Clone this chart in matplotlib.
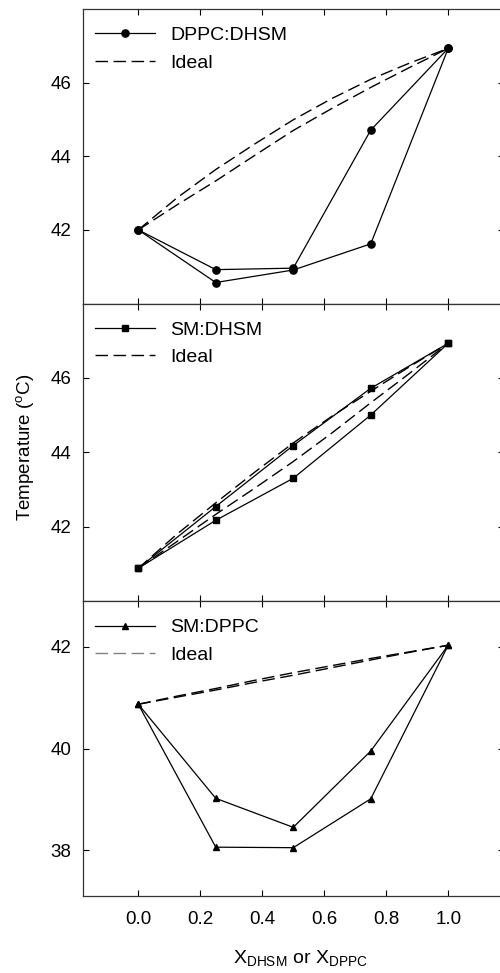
import matplotlib
matplotlib.use("Agg")
import matplotlib.pyplot as plt
from matplotlib.lines import Line2D

plt.rcParams['font.family'] = ['Liberation Sans', 'DejaVu Sans']
plt.rcParams['mathtext.fontset'] = 'custom'
plt.rcParams['mathtext.rm'] = 'Liberation Sans'
plt.rcParams['mathtext.it'] = 'Liberation Sans'

x = [0.0, 0.25, 0.5, 0.75, 1.0]
x_ideal = [0.0, 0.125, 0.25, 0.375, 0.5, 0.625, 0.75, 0.875, 1.0]

# DPPC:DHSM
dppc_dhsm_a = [42.0, 40.92, 40.96, 44.71, 46.93]
dppc_dhsm_b = [42.0, 40.57, 40.91, 41.62, 46.93]
ideal1_a = [42.0, 42.87, 43.64, 44.33, 44.99, 45.57, 46.09, 46.53, 46.93]
ideal1_b = [42.0, 42.68, 43.33, 44.02, 44.70, 45.30, 45.87, 46.41, 46.93]

# SM:DHSM
sm_dhsm_a = [40.88, 42.54, 44.18, 45.72, 46.93]
sm_dhsm_b = [40.88, 42.17, 43.30, 45.00, 46.93]
ideal2_a = [40.88, 41.80, 42.64, 43.46, 44.25, 44.97, 45.64, 46.30, 46.93]
ideal2_b = [40.88, 41.60, 42.33, 43.03, 43.75, 44.52, 45.33, 46.12, 46.93]

# SM:DPPC
sm_dppc_a = [40.87, 39.02, 38.45, 39.95, 42.03]
sm_dppc_b = [40.87, 38.06, 38.05, 39.01, 42.03]
ideal3_a = [40.87, 41.03, 41.18, 41.34, 41.49, 41.63, 41.77, 41.90, 42.03]
ideal3_b = [40.87, 41.01, 41.15, 41.30, 41.44, 41.59, 41.74, 41.89, 42.03]

panels = [
    ('DPPC:DHSM', 'o', 5.2, dppc_dhsm_a, dppc_dhsm_b, ideal1_a, ideal1_b, (40, 48), [42, 44, 46], 'black'),
    ('SM:DHSM', 's', 4.3, sm_dhsm_a, sm_dhsm_b, ideal2_a, ideal2_b, (40, 48), [42, 44, 46], 'black'),
    ('SM:DPPC', '^', 5.0, sm_dppc_a, sm_dppc_b, ideal3_a, ideal3_b, (37.1, 42.9), [38, 40, 42], '0.5'),
]

fig = plt.figure(figsize=(5, 9.73), dpi=100)
W, H = 500.0, 973.0
left, right = 82.5, 504.0
tops = [(9, 303.5), (303.5, 601), (601, 896)]

for i, (name, mk, ms, ya, yb, ia, ib, ylim, yticks, lc) in enumerate(panels):
    t, b = tops[i]
    ax = fig.add_axes([left / W, 1 - b / H, (right - left) / W, (b - t) / H])
    l1, = ax.plot(x, ya, color='black', lw=0.9, marker=mk, ms=ms, label=name)
    ax.plot(x, yb, color='black', lw=0.9, marker=mk, ms=ms)
    ax.plot(x_ideal, ia, color='black', lw=1.0, dashes=(9, 4))
    ax.plot(x_ideal, ib, color='black', lw=1.0, dashes=(9, 4))
    l2 = Line2D([], [], color=lc, lw=1.0, dashes=(9, 4), label='Ideal')
    ax.set_xlim(-0.18, 1.18)
    ax.set_ylim(*ylim)
    ax.set_xticks([0.0, 0.2, 0.4, 0.6, 0.8, 1.0])
    ax.set_yticks(yticks)
    ax.tick_params(direction='in', length=4.5, width=0.8, top=True, right=True,
                   labelsize=13.5, colors='black')
    ax.tick_params(axis='y', pad=8)
    ax.tick_params(axis='x', pad=11)
    if i < 2:
        ax.tick_params(labelbottom=False)
    else:
        ax.set_xticklabels(['0.0', '0.2', '0.4', '0.6', '0.8', '1.0'])
    for s in ax.spines.values():
        s.set_linewidth(0.9)
        s.set_color('#333333')
    ax.legend(handles=[l1, l2], loc='upper left', bbox_to_anchor=(0.03, 0.94),
              frameon=False, fontsize=14, handlelength=3.1, handletextpad=0.75,
              labelspacing=0.5, borderaxespad=0, borderpad=0, numpoints=1)

fig.text(25 / W, 1 - 447 / H, r'Temperature ($^{\mathrm{o}}$C)', rotation=90,
         ha='center', va='center', fontsize=13.5)
fig.text(300 / W, 1 - 958 / H, r'X$_{\mathrm{DHSM}}$ or X$_{\mathrm{DPPC}}$',
         ha='center', va='center', fontsize=14)

fig.savefig('out.png', dpi=100)
